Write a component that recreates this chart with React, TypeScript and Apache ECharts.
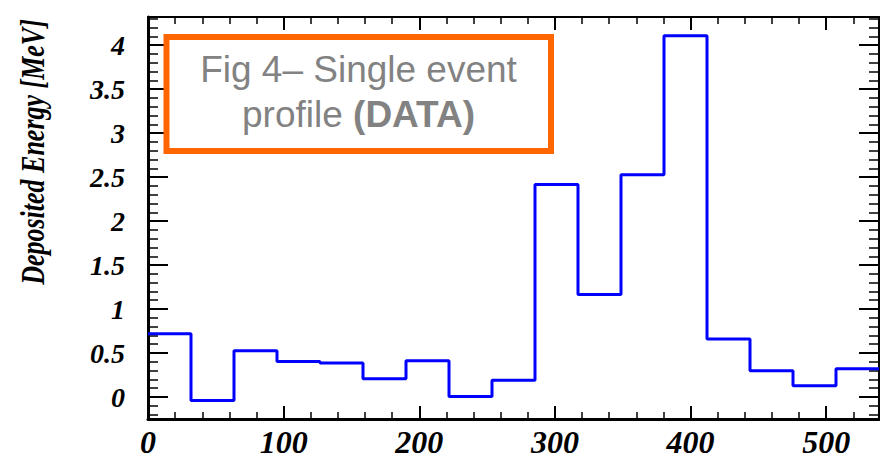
import React, { useEffect, useRef } from "react";
import * as echarts from "echarts";

// Histogram: 17 bins of equal width starting at 0
const BIN_VALUES = [0.72, -0.04, 0.526, 0.405, 0.386, 0.208, 0.412, 0.007, 0.19, 2.416, 1.166, 2.526, 4.106, 0.659, 0.299, 0.128, 0.322];
const BIN_WIDTH = 31.7;
const X_MIN = 0;
const X_MAX = BIN_VALUES.length * BIN_WIDTH;
const Y_MIN = -0.25;
const Y_MAX = 4.32;
const X_TICK = 100;
const Y_TICK = 0.5;
const Y_TITLE = "Deposited Energy [MeV]";
const BOX_LINE1 = "Fig 4\u2013 Single event";
const BOX_LINE2_PLAIN = "profile ";
const BOX_LINE2_BOLD = "(DATA)";

const SERIF = "'Liberation Serif', 'Times New Roman', Times, serif";
const SANS = "'Liberation Sans', Arial, Helvetica, sans-serif";

export default function App() {
  const ref = useRef<HTMLDivElement>(null);

  useEffect(() => {
    if (!ref.current) return;
    const chart = echarts.init(ref.current, null, { renderer: "svg" });

    const stepData: number[][] = BIN_VALUES.map((v, i) => [X_MIN + i * BIN_WIDTH, v]);
    stepData.push([X_MAX, BIN_VALUES[BIN_VALUES.length - 1]]);

    const labelStyle = {
      fontFamily: SERIF,
      fontWeight: "bold" as const,
      fontStyle: "italic" as const,
      color: "#000",
    };

    const xCommon = {
      type: "value" as const,
      min: X_MIN,
      max: X_MAX,
      interval: X_TICK,
      gridIndex: 0,
      splitLine: { show: false },
      axisTick: { show: true, inside: true, length: 13, lineStyle: { color: "#000", width: 2 } },
      minorTick: { show: true, splitNumber: 5, length: 7, lineStyle: { color: "#000", width: 1.5 } },
    };
    const yCommon = {
      type: "value" as const,
      min: Y_MIN,
      max: Y_MAX,
      minInterval: Y_TICK,
      maxInterval: Y_TICK,
      splitNumber: 9,
      gridIndex: 0,
      splitLine: { show: false },
      axisTick: { show: true, inside: true, length: 20, lineStyle: { color: "#000", width: 2 } },
      minorTick: { show: true, splitNumber: 5, length: 10, lineStyle: { color: "#000", width: 1.5 } },
    };

    chart.setOption({
      animation: false,
      backgroundColor: "#fff",
      grid: { left: 148, right: 1, top: 17, bottom: 42, outerBoundsMode: "none" },
      xAxis: [
        {
          ...xCommon,
          position: "bottom",
          axisLine: { show: true, onZero: false, lineStyle: { color: "#000", width: 3 } },
          axisLabel: { ...labelStyle, fontSize: 32, margin: 7, showMaxLabel: false },
        },
        {
          ...xCommon,
          position: "top",
          axisLine: { show: true, onZero: false, lineStyle: { color: "#000", width: 2 } },
          axisLabel: { show: false },
        },
      ],
      yAxis: [
        {
          ...yCommon,
          position: "left",
          axisLine: { show: true, onZero: false, lineStyle: { color: "#000", width: 3 } },
          axisLabel: { ...labelStyle, fontSize: 28, margin: 23, showMinLabel: false, showMaxLabel: false, padding: [5, 0, 0, 0] },
        },
        {
          ...yCommon,
          position: "right",
          axisLine: { show: true, onZero: false, lineStyle: { color: "#000", width: 2 } },
          axisLabel: { show: false },
        },
      ],
      series: [
        {
          type: "line",
          xAxisIndex: 0,
          yAxisIndex: 0,
          step: "end",
          showSymbol: false,
          symbol: "none",
          data: stepData,
          lineStyle: { color: "#0000ff", width: 3 },
          z: 1,
        },
      ],
      graphic: [
        {
          type: "rect",
          shape: { x: 166.5, y: 37, width: 384.5, height: 114 },
          style: { fill: "#fff", stroke: "#ff6600", lineWidth: 6 },
          z: 10,
        },
        {
          type: "text",
          x: 358.5,
          y: 91.5,
          z: 11,
          style: {
            text: BOX_LINE1 + "\n" + BOX_LINE2_PLAIN + "{b|" + BOX_LINE2_BOLD + "}",
            fontFamily: SANS,
            fontSize: 37,
            fontWeight: "normal",
            fill: "#828282",
            align: "center",
            verticalAlign: "middle",
            lineHeight: 45,
            rich: {
              b: { fontFamily: SANS, fontSize: 37, fontWeight: "bold", fill: "#828282", lineHeight: 45 },
            },
          },
        },
        {
          type: "text",
          x: 33,
          y: 152,
          rotation: Math.PI / 2,
          scaleY: 1.3,
          z: 11,
          style: {
            text: Y_TITLE,
            fontFamily: SERIF,
            fontSize: 26,
            fontWeight: "bold",
            fontStyle: "italic",
            fill: "#000",
            align: "center",
            verticalAlign: "middle",
          },
        },
      ],
    });

    return () => chart.dispose();
  }, []);

  return (
    <div
      ref={ref}
      style={{ position: "fixed", left: 0, top: 0, width: 880, height: 461, background: "#fff" }}
    />
  );
}
